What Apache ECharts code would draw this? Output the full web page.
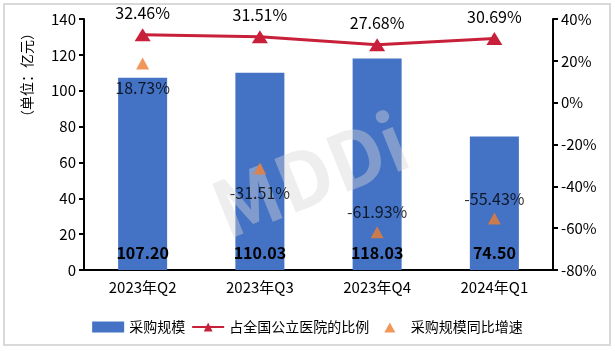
<!DOCTYPE html>
<html lang="zh">
  <head>
    <meta charset="UTF-8" />
    <title>采购规模</title>
    <script src="https://cdn.jsdelivr.net/npm/echarts@6/dist/echarts.min.js"></script>
    <style>
      html, body { margin: 0; padding: 0; background: #fff; }
      #frame {
        position: absolute; left: 3px; top: 3px;
        width: 604px; height: 339px;
        border: 2px solid #d9d9d9;
      }
      #chart { position: absolute; left: 0; top: 0; width: 615px; height: 351px; }
    </style>
  </head>
  <body>
    <div id="frame"></div>
    <div id="chart"></div>
    <script>
      var categories = ['2023年Q2', '2023年Q3', '2023年Q4', '2024年Q1'];
      var scaleValues = [107.20, 110.03, 118.03, 74.50];
      var shareValues = [32.46, 31.51, 27.68, 30.69];
      var growthValues = [18.73, -31.51, -61.93, -55.43];
      var growthLabelBelow = [true, true, false, false];

      var font = "'Noto Sans CJK SC', sans-serif";
      var chart = echarts.init(document.getElementById('chart'));

      var growthData = growthValues.map(function (v, i) {
        return {
          value: v,
          label: { position: growthLabelBelow[i] ? 'bottom' : 'top', distance: growthLabelBelow[i] ? 10 : 6 }
        };
      });

      // 범례용 작은 삼각형 (투명 여백 포함)
      var smallTriangle = 'path://M0,0L0.01,0L0.01,0.01Z M32,12L31.99,12L31.99,11.99Z M10,12L16,1L22,12Z';

      chart.setOption({
        animation: false,
        textStyle: { fontFamily: font },
        grid: { left: 84, right: 62, top: 19, bottom: 81 },
        graphic: [
          {
            type: 'text',
            left: 20, top: 26,
            rotation: Math.PI / 2,
            style: { text: '（单位：亿元）', font: '14px ' + font, fill: '#000' }
          },
          {
            type: 'text',
            x: 310, y: 175,
            rotation: 0.38,
            style: {
              text: 'MDDi', font: 'bold 78px ' + font, fill: 'rgba(215,215,215,0.42)',
              align: 'center', verticalAlign: 'middle'
            },
            z: 2
          }
        ],
        legend: {
          bottom: 12,
          itemGap: 6,
          textStyle: { fontSize: 14, color: '#000', fontFamily: font },
          data: [
            { name: '采购规模', icon: 'rect', itemStyle: { color: '#4472c4' } },
            { name: '占全国公立医院的比例' },
            { name: '采购规模同比增速', icon: smallTriangle }
          ],
          itemWidth: 32,
          itemHeight: 11
        },
        xAxis: {
          type: 'category',
          data: categories,
          axisLine: { lineStyle: { color: '#000', width: 2 } },
          axisTick: { show: false },
          axisLabel: { color: '#000', fontSize: 15, margin: 10 }
        },
        yAxis: [
          {
            type: 'value', min: 0, max: 140, interval: 20,
            axisLine: { show: true, lineStyle: { color: '#000', width: 2 } },
            axisTick: { show: true, length: 5, lineStyle: { width: 2 } },
            splitLine: { show: false },
            axisLabel: { color: '#000', fontSize: 15, margin: 8 }
          },
          {
            type: 'value', min: -80, max: 40, interval: 20,
            axisLine: { show: true, lineStyle: { color: '#000', width: 2 } },
            axisTick: { show: true, length: 5, lineStyle: { width: 2 } },
            splitLine: { show: false },
            axisLabel: { color: '#000', fontSize: 15, margin: 8, formatter: '{value}%' }
          }
        ],
        series: [
          {
            name: '采购规模',
            type: 'bar',
            z: 1,
            barWidth: 49,
            data: scaleValues,
            itemStyle: { color: '#4472c4' },
            label: {
              show: true, position: 'insideBottom', distance: 9,
              color: '#000', fontSize: 16, fontWeight: 'bold',
              formatter: function (p) { return p.value.toFixed(2); }
            }
          },
          {
            name: '占全国公立医院的比例',
            type: 'line',
            z: 3,
            yAxisIndex: 1,
            data: shareValues,
            symbol: 'triangle',
            symbolSize: [16, 13],
            lineStyle: { color: '#c8203a', width: 3 },
            itemStyle: { color: '#c8203a' },
            label: {
              show: true, position: 'top', distance: 7,
              color: '#000', fontSize: 16,
              formatter: function (p) { return p.value.toFixed(2) + '%'; }
            }
          },
          {
            name: '采购规模同比增速',
            type: 'scatter',
            z: 3,
            yAxisIndex: 1,
            data: growthData,
            symbol: 'triangle',
            symbolSize: [13, 12],
            itemStyle: { color: '#ed7d31' },
            label: {
              show: true,
              color: '#000', fontSize: 16,
              formatter: function (p) { return p.value.toFixed(2) + '%'; }
            }
          }
        ]
      });
    </script>
  </body>
</html>
